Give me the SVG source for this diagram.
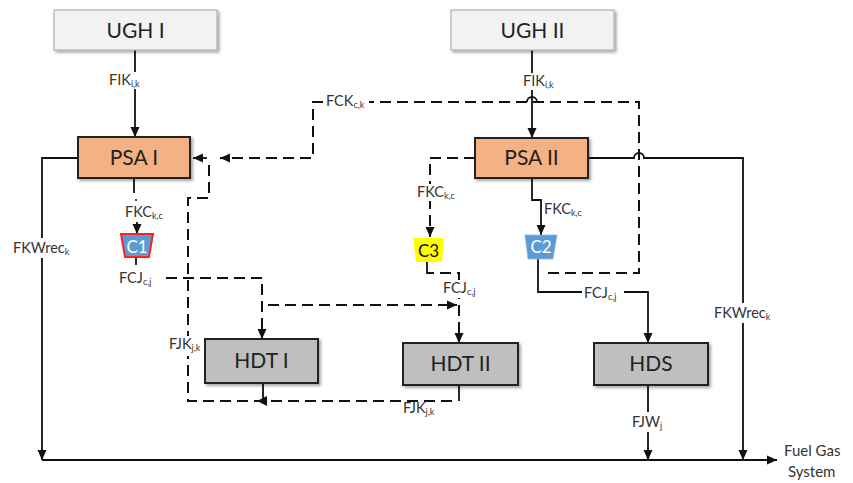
<svg xmlns="http://www.w3.org/2000/svg" width="853" height="483" viewBox="0 0 853 483">
<style>
.box text{font-family:Lato,"Liberation Sans",sans-serif;fill:#222;text-anchor:middle}
.big{font-size:21px}
.ugh{fill:#f2f2f2;stroke:#b0b0b0;stroke-width:1.2}
.psa{fill:#f4b183;stroke:#222;stroke-width:2}
.hdt{fill:#bfbfbf;stroke:#222;stroke-width:2}
.ln{fill:none;stroke:#111;stroke-width:1.8}
.ds{fill:none;stroke:#111;stroke-width:2;stroke-dasharray:11 6}
.bg{fill:#fff}
.lbl{font-family:Lato,"Liberation Sans",sans-serif;font-size:14.5px;fill:#333}
.sub{font-size:9px}
.out{font-family:Lato,"Liberation Sans",sans-serif;font-size:15px;fill:#333}
</style>
<defs>
<marker id="ah" viewBox="0 0 10 10" refX="10" refY="5" markerWidth="10" markerHeight="10" markerUnits="userSpaceOnUse" orient="auto">
<path d="M0,0.5 L10,5 L0,9.5 Z" fill="#111"/>
</marker>
<filter id="sh" x="-10%" y="-10%" width="130%" height="140%">
<feDropShadow dx="2" dy="2" stdDeviation="1.5" flood-color="#000" flood-opacity="0.35"/>
</filter>
</defs>
<rect width="853" height="483" fill="#fff"/>

<g id="connectors">
<!-- UGH I -> PSA I -->
<path class="ln" d="M135,50 V137" marker-end="url(#ah)"/>
<!-- UGH II -> PSA II -->
<path class="ln" d="M532,50 V138" marker-end="url(#ah)"/>
<!-- PSA I -> C1 -->
<path class="ln" d="M134,178 V193"/>
<circle cx="136" cy="200" r="1" fill="#111"/>
<path class="ln" d="M137,222 V234" marker-end="url(#ah)"/>
<!-- C1 -> HDT I -->
<path class="ln" d="M136,257 V265"/>
<path class="ds" d="M166,278 H262 V339" marker-end="url(#ah)"/>
<path class="ds" d="M268,305 H457" marker-end="url(#ah)"/>
<!-- PSA II -> C3 -->
<path class="ds" d="M475,158 H430 V237" marker-end="url(#ah)"/>
<!-- C3 -> HDT II -->
<path class="ln" d="M427,262 V273 H434"/>
<path class="ds" d="M440,273 H459 V343" marker-end="url(#ah)"/>
<!-- PSA II -> C2 -->
<path class="ln" d="M532,178 V200 H541 V235" marker-end="url(#ah)"/>
<!-- C2 -> HDS -->
<path class="ln" d="M538,259 V292 H648 V343" marker-end="url(#ah)"/>
<!-- C2 -> PSA I (FCK) -->
<path class="ds" d="M548,273 H639 V102 H313 V158 H220" marker-end="url(#ah)"/>
<path d="M527,102 A5,5 0 0 1 537,102" fill="none" stroke="#111" stroke-width="1.8"/>
<!-- HDT II / HDT I -> PSA I (FJK) -->
<path class="ln" d="M459,385 V401"/>
<path class="ds" d="M452,401 H188 V198 H209 V163"/>
<path class="ln" d="M207,158 H193" marker-end="url(#ah)"/>
<path class="ln" d="M263,383 V401"/>
<path d="M257,401 L267,396 L267,406 Z" fill="#111"/>
<!-- HDS -> Fuel gas -->
<path class="ln" d="M648,385 V460" marker-end="url(#ah)"/>
<!-- PSA I -> Fuel gas -->
<path class="ln" d="M78,158 H42 V460" marker-end="url(#ah)"/>
<!-- PSA II -> Fuel gas -->
<path class="ln" d="M588,158 H634 A5,5 0 0 1 644,158 H743 V460" marker-end="url(#ah)"/>
<!-- main header -->
<path class="ln" d="M42,460 H777" marker-end="url(#ah)"/>

<!-- label backgrounds -->
<rect class="bg" x="106" y="72" width="38" height="17"/>
<rect class="bg" x="520" y="73" width="38" height="17"/>
<rect class="bg" x="415" y="184" width="44" height="17"/>
<rect class="bg" x="441" y="280" width="40" height="18"/>
<rect class="bg" x="582" y="284" width="42" height="16"/>
<rect class="bg" x="323" y="93" width="46" height="17"/>
<rect class="bg" x="167" y="336" width="38" height="20"/>
<rect class="bg" x="630" y="412" width="36" height="20"/>
<rect class="bg" x="11" y="238" width="66" height="20"/>
<rect class="bg" x="712" y="303" width="66" height="20"/>

<!-- labels -->
<text class="lbl" x="109" y="85">FIK<tspan class="sub" dy="2">i,k</tspan></text>
<text class="lbl" x="523" y="86">FIK<tspan class="sub" dy="2">i,k</tspan></text>
<text class="lbl" x="125" y="217">FKC<tspan class="sub" dy="2">k,c</tspan></text>
<text class="lbl" x="119" y="283">FCJ<tspan class="sub" dy="2">c,j</tspan></text>
<text class="lbl" x="417" y="197">FKC<tspan class="sub" dy="2">k,c</tspan></text>
<text class="lbl" x="443" y="293">FCJ<tspan class="sub" dy="2">c,j</tspan></text>
<text class="lbl" x="544" y="214">FKC<tspan class="sub" dy="2">k,c</tspan></text>
<text class="lbl" x="584" y="298">FCJ<tspan class="sub" dy="2">c,j</tspan></text>
<text class="lbl" x="326" y="106">FCK<tspan class="sub" dy="2">c,k</tspan></text>
<text class="lbl" x="169" y="349">FJK<tspan class="sub" dy="2">j,k</tspan></text>
<text class="lbl" x="403" y="413">FJK<tspan class="sub" dy="2">j,k</tspan></text>
<text class="lbl" x="632" y="427">FJW<tspan class="sub" dy="2">j</tspan></text>
<text class="lbl" x="13" y="253">FKWrec<tspan class="sub" dy="2">k</tspan></text>
<text class="lbl" x="714" y="318">FKWrec<tspan class="sub" dy="2">k</tspan></text>
<text class="out" x="784" y="456">Fuel Gas</text>
<text class="out" x="788" y="477">System</text>
</g>

<g id="ugh1" class="box">
<rect class="ugh" x="54" y="10" width="163" height="40" filter="url(#sh)"/>
<text class="big" x="135.5" y="38">UGH I</text>
</g>
<g id="ugh2" class="box">
<rect class="ugh" x="451" y="10" width="163" height="40" filter="url(#sh)"/>
<text class="big" x="532.5" y="38">UGH II</text>
</g>
<g id="psa1" class="box">
<rect class="psa" x="78" y="137" width="112" height="41" filter="url(#sh)"/>
<text class="big" x="134" y="165">PSA I</text>
</g>
<g id="psa2" class="box">
<rect class="psa" x="475" y="138" width="113" height="40" filter="url(#sh)"/>
<text class="big" x="531.5" y="165">PSA II</text>
</g>
<g id="c1" class="box">
<path d="M121,234 H153 L149,257 H125 Z" fill="#5b9bd5" stroke="#ff2020" stroke-width="2"/>
<text x="137" y="253" style="font-size:17px;fill:#fff">C1</text>
</g>
<g id="c2" class="box">
<path d="M525,235 H557 L553,259 H528 Z" fill="#5b9bd5" stroke="#8fb8e0" stroke-width="0.8"/>
<text x="541" y="253" style="font-size:17px;fill:#fff">C2</text>
</g>
<g id="c3" class="box">
<path d="M413,238 H444 L442,262 H416 Z" fill="#ffff00"/>
<text x="428.5" y="257" style="font-size:17px;fill:#111">C3</text>
</g>
<g id="hdt1" class="box">
<rect class="hdt" x="205" y="339" width="113" height="44" filter="url(#sh)"/>
<text class="big" x="261.5" y="368">HDT I</text>
</g>
<g id="hdt2" class="box">
<rect class="hdt" x="403" y="343" width="115" height="42" filter="url(#sh)"/>
<text class="big" x="460.5" y="371">HDT II</text>
</g>
<g id="hds" class="box">
<rect class="hdt" x="594" y="343" width="114" height="42" filter="url(#sh)"/>
<text class="big" x="651" y="371">HDS</text>
</g>
</svg>
